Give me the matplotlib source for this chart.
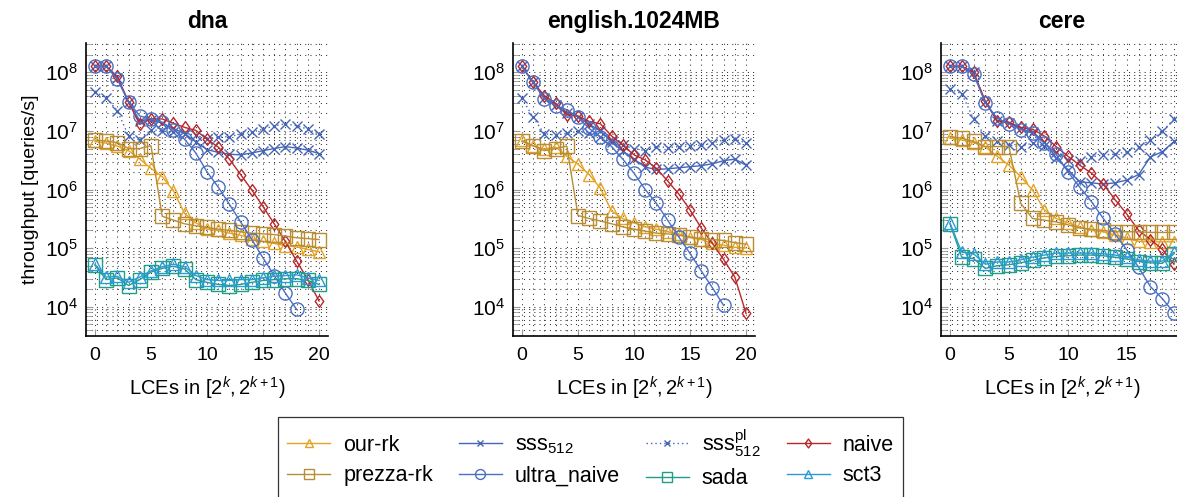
import matplotlib
matplotlib.use("Agg")
import matplotlib.pyplot as plt
from matplotlib.path import Path
from matplotlib.ticker import LogLocator, NullFormatter, MultipleLocator, LogFormatterMathtext

plt.rcParams['font.family'] = ['Liberation Sans', 'DejaVu Sans']
plt.rcParams['mathtext.fontset'] = 'custom'
plt.rcParams['mathtext.rm'] = 'Liberation Sans'
plt.rcParams['mathtext.it'] = 'Liberation Sans:italic'
plt.rcParams['mathtext.bf'] = 'Liberation Sans:bold'

titles = ["dna", "english.1024MB", "cere"]
xticks_list = [[0, 5, 10, 15, 20], [0, 5, 10, 15, 20], [0, 5, 10, 15]]

# ---- dna ----
dna_our_rk = [6.6e6, 6.2e6, 5.5e6, 4.6e6, 3.3e6, 2.3e6, 1.66e6, 9.5e5, 3.9e5, 2.7e5, 2.1e5,
              2.0e5, 1.8e5, 1.66e5, 1.45e5, 1.3e5, 1.2e5, 1.1e5, 1.05e5, 9.5e4, 8.7e4]
dna_prezza = [7.0e6, 6.7e6, 6.3e6, 5.0e6, 5.0e6, 5.6e6, 3.5e5, 3.0e5, 2.6e5, 2.4e5, 2.25e5,
              2.1e5, 2.0e5, 1.9e5, 1.8e5, 1.75e5, 1.7e5, 1.6e5, 1.5e5, 1.45e5, 1.4e5]
dna_sss = [1.26e8, 1.26e8, 8.0e7, 3.1e7, 1.5e7, 1.55e7, 1.35e7, 1.1e7, 9.0e6, 6.5e6, 4.8e6,
           4.3e6, 4.0e6, 3.9e6, 4.2e6, 4.6e6, 5.0e6, 5.4e6, 5.1e6, 4.7e6, 4.1e6]
dna_sss_pl = [4.6e7, 3.7e7, 2.2e7, 8.2e6, 7.0e6, 1.05e7, 1.0e7, 9.5e6, 9.0e6, 8.5e6, 7.2e6,
              7.8e6, 8.0e6, 8.8e6, 9.5e6, 1.07e7, 1.22e7, 1.32e7, 1.23e7, 1.07e7, 8.8e6]
dna_ultra = [1.26e8, 1.26e8, 7.6e7, 3.1e7, 1.8e7, 1.6e7, 1.4e7, 1.05e7, 7.2e6, 4.2e6, 2.0e6,
             1.1e6, 5.6e5, 2.8e5, 1.4e5, 6.8e4, 3.4e4, 1.7e4, 9.0e3]
dna_naive = [1.26e8, 1.26e8, 8.5e7, 3.1e7, 1.29e7, 1.6e7, 1.6e7, 1.35e7, 1.15e7, 1.02e7, 7.2e6,
             5.3e6, 3.3e6, 1.8e6, 9.8e5, 5.1e5, 2.6e5, 1.3e5, 6.0e4, 2.9e4, 1.25e4]
dna_sada = [5.1e4, 2.9e4, 3.1e4, 2.3e4, 2.9e4, 3.9e4, 4.5e4, 4.9e4, 4.4e4, 2.9e4, 2.6e4,
            2.4e4, 2.3e4, 2.4e4, 2.6e4, 2.8e4, 2.9e4, 3.0e4, 3.0e4, 2.8e4, 2.4e4]
dna_sct3 = [5.3e4, 3.2e4, 3.3e4, 2.6e4, 3.2e4, 4.1e4, 4.8e4, 5.3e4, 4.8e4, 3.4e4, 2.9e4,
            2.8e4, 2.8e4, 2.9e4, 2.9e4, 3.1e4, 3.3e4, 3.4e4, 3.5e4, 3.1e4, 2.8e4]

# ---- english.1024MB ----
eng_our_rk = [7.0e6, 5.5e6, 4.9e6, 5.3e6, 3.7e6, 2.7e6, 1.8e6, 1.05e6, 4.3e5, 3.2e5, 2.7e5,
              2.3e5, 2.1e5, 1.9e5, 1.75e5, 1.5e5, 1.4e5, 1.2e5, 1.12e5, 1.03e5, 1.0e5]
eng_prezza = [6.6e6, 5.6e6, 4.6e6, 5.0e6, 5.5e6, 3.6e5, 3.2e5, 2.9e5, 2.6e5, 2.3e5, 2.1e5,
              1.95e5, 1.8e5, 1.75e5, 1.66e5, 1.55e5, 1.45e5, 1.4e5, 1.35e5, 1.24e5, 1.17e5]
eng_sss = [1.26e8, 6.7e7, 3.7e7, 2.8e7, 2.0e7, 1.75e7, 1.3e7, 1.0e7, 6.5e6, 4.5e6, 3.3e6,
           2.4e6, 2.2e6, 2.25e6, 2.35e6, 2.45e6, 2.55e6, 2.75e6, 3.1e6, 3.3e6, 2.6e6]
eng_sss_pl = [3.6e7, 1.7e7, 8.9e6, 8.5e6, 9.1e6, 9.8e6, 9.1e6, 8.0e6, 7.0e6, 5.7e6, 5.0e6,
              4.6e6, 5.4e6, 5.2e6, 5.4e6, 5.5e6, 5.7e6, 6.2e6, 7.0e6, 7.2e6, 6.2e6]
eng_ultra = [1.26e8, 6.7e7, 3.5e7, 2.7e7, 2.3e7, 1.7e7, 1.1e7, 7.9e6, 5.4e6, 3.3e6, 1.9e6,
             1.0e6, 5.8e5, 3.0e5, 1.55e5, 8.1e4, 4.1e4, 2.1e4, 1.05e4]
eng_naive = [1.26e8, 6.7e7, 4.0e7, 2.97e7, 1.87e7, 1.8e7, 1.45e7, 1.32e7, 8.2e6, 5.7e6, 3.9e6,
             3.2e6, 2.3e6, 1.4e6, 8.4e5, 4.5e5, 2.2e5, 1.2e5, 6.4e4, 3.2e4, 7.7e3]
eng_sada = []
eng_sct3 = []

# ---- cere (k = 0 .. 19) ----
cere_our_rk = [7.5e6, 7.0e6, 6.3e6, 5.3e6, 3.7e6, 2.6e6, 1.66e6, 9.8e5, 4.5e5, 3.2e5, 2.7e5,
               2.3e5, 2.0e5, 1.9e5, 1.66e5, 1.48e5, 1.3e5, 1.28e5, 1.28e5, 1.28e5]
cere_prezza = [8.0e6, 7.5e6, 6.6e6, 5.4e6, 5.4e6, 5.4e6, 5.8e5, 3.2e5, 3.0e5, 2.8e5, 2.5e5,
               2.2e5, 2.1e5, 2.0e5, 1.9e5, 1.9e5, 1.9e5, 1.85e5, 1.85e5, 1.85e5]
cere_sss = [1.26e8, 1.26e8, 1.0e8, 3.1e7, 1.5e7, 1.35e7, 1.1e7, 9.5e6, 6.5e6, 3.5e6, 2.15e6,
            1.35e6, 1.3e6, 1.24e6, 1.3e6, 1.45e6, 1.8e6, 3.6e6, 4.4e6, 6.6e6]
cere_sss_pl = [5.2e7, 4.3e7, 1.6e7, 8.1e6, 6.6e6, 5.7e6, 5.4e6, 6.2e6, 5.5e6, 4.4e6, 3.2e6,
               3.1e6, 3.6e6, 3.9e6, 4.0e6, 4.4e6, 5.4e6, 7.0e6, 9.8e6, 1.6e7]
cere_ultra = [1.26e8, 1.26e8, 9.3e7, 3.0e7, 1.65e7, 1.32e7, 1.05e7, 9.1e6, 6.2e6, 4.0e6, 2.0e6,
              1.1e6, 6.2e5, 3.2e5, 1.74e5, 9.3e4, 4.7e4, 2.2e4, 1.38e4, 7.8e3]
cere_naive = [1.26e8, 1.26e8, 1.0e8, 3.2e7, 1.5e7, 1.4e7, 1.15e7, 1.07e7, 8.2e6, 5.4e6, 3.7e6,
              2.6e6, 1.9e6, 1.24e6, 6.7e5, 3.8e5, 2.0e5, 1.4e5, 9.6e4, 5.3e4]
cere_sada = [2.6e5, 7.0e4, 6.6e4, 4.5e4, 5.0e4, 5.2e4, 5.6e4, 6.2e4, 6.8e4, 7.2e4, 7.4e4,
             7.6e4, 7.6e4, 7.4e4, 7.0e4, 6.5e4, 5.9e4, 5.6e4, 5.5e4, 8.0e4]
cere_sct3 = [2.7e5, 8.5e4, 8.0e4, 5.3e4, 5.8e4, 5.8e4, 6.3e4, 7.0e4, 7.6e4, 8.2e4, 8.2e4,
             8.2e4, 8.2e4, 8.0e4, 7.6e4, 7.0e4, 6.3e4, 6.0e4, 6.0e4, 8.5e4]

datasets = [
    dict(our_rk=dna_our_rk, sss=dna_sss, sss_pl=dna_sss_pl, naive=dna_naive,
         prezza=dna_prezza, ultra=dna_ultra, sada=dna_sada, sct3=dna_sct3),
    dict(our_rk=eng_our_rk, sss=eng_sss, sss_pl=eng_sss_pl, naive=eng_naive,
         prezza=eng_prezza, ultra=eng_ultra, sada=eng_sada, sct3=eng_sct3),
    dict(our_rk=cere_our_rk, sss=cere_sss, sss_pl=cere_sss_pl, naive=cere_naive,
         prezza=cere_prezza, ultra=cere_ultra, sada=cere_sada, sct3=cere_sct3),
]
xlims = [(-0.8, 20.8), (-0.8, 20.8), (-0.76, 19.76)]

diamond = Path([(0, 1), (0.72, 0), (0, -1), (-0.72, 0), (0, 1)],
               [Path.MOVETO, Path.LINETO, Path.LINETO, Path.LINETO, Path.CLOSEPOLY])

styles = {
    'our_rk': dict(label='our-rk', color='#E5A323', marker='^', ms=8, ls='-'),
    'sss':    dict(label=r'sss$_{512}$', color='#4565B8', marker='x', ms=6.5, ls='-'),
    'sss_pl': dict(label=r'sss$^{\mathrm{pl}}_{512}$', color='#4565B8', marker='x', ms=6.5, ls=(0, (1, 2.2))),
    'naive':  dict(label='naive', color='#B8272C', marker=diamond, ms=8.5, ls='-'),
    'prezza': dict(label='prezza-rk', color='#B88D33', marker='s', ms=9.5, ls='-'),
    'ultra':  dict(label='ultra_naive', color='#4A6FC4', marker='o', ms=9.5, ls='-'),
    'sada':   dict(label='sada', color='#1F9E8A', marker='s', ms=9.5, ls='-'),
    'sct3':   dict(label='sct3', color='#2A9BD6', marker='^', ms=8, ls='-'),
}
draw_order = ['our_rk', 'sss', 'sss_pl', 'naive', 'prezza', 'ultra', 'sada', 'sct3']

W, H = 1177, 497
fig = plt.figure(figsize=(W / 100, H / 100), dpi=100)
lefts = [86, 513, 941]
ax_w, ax_top, ax_bot = 242, 43, 336

handles = {}
for i, (title, data) in enumerate(zip(titles, datasets)):
    ax = fig.add_axes([lefts[i] / W, (H - ax_bot) / H, ax_w / W, (ax_bot - ax_top) / H])
    for key in draw_order:
        vals = data[key]
        if not vals:
            continue
        st = styles[key]
        (ln,) = ax.plot(range(len(vals)), vals, color=st['color'], linestyle=st['ls'],
                        linewidth=1.0, marker=st['marker'], markersize=st['ms'],
                        markerfacecolor='none', markeredgecolor=st['color'],
                        markeredgewidth=1.0, label=st['label'])
        handles[key] = ln
    ax.set_yscale('log')
    ax.set_ylim(10 ** 3.5, 10 ** 8.5)
    ax.set_xlim(*xlims[i])
    ax.set_xticks(xticks_list[i])
    ax.xaxis.set_minor_locator(MultipleLocator(1))
    ax.yaxis.set_major_locator(LogLocator(base=10, numticks=20))
    ax.yaxis.set_minor_locator(LogLocator(base=10, subs=[2, 3, 4, 5, 6, 7, 8, 9], numticks=20))
    ax.yaxis.set_major_formatter(LogFormatterMathtext())
    ax.yaxis.set_minor_formatter(NullFormatter())
    ax.grid(True, which='both', axis='both', linestyle=(0, (1, 4)), color='#333333', linewidth=0.75)
    ax.set_axisbelow(True)
    for s in ['top', 'right']:
        ax.spines[s].set_visible(False)
    for s in ['left', 'bottom']:
        ax.spines[s].set_linewidth(1.2)
    ax.tick_params(axis='y', which='major', direction='in', length=5, color='#999999',
                   labelsize=15, pad=6)
    ax.tick_params(axis='y', which='minor', direction='in', length=4, color='#999999')
    ax.tick_params(axis='x', which='major', direction='in', length=5, color='#999999',
                   labelsize=14, pad=8)
    ax.tick_params(axis='x', which='minor', length=0)
    ax.set_title(title, fontsize=16.5, fontweight='bold', pad=11)
    ax.set_xlabel(r'LCEs in $[2^{k}, 2^{k+1})$', fontsize=14.5, labelpad=8)
    if i == 0:
        ax.set_ylabel('throughput [queries/s]', fontsize=14, labelpad=4)

leg_order = ['our_rk', 'prezza', 'sss', 'ultra', 'sss_pl', 'sada', 'naive', 'sct3']
leg = fig.legend([handles[k] for k in leg_order], [styles[k]['label'] for k in leg_order],
                 loc='upper center', bbox_to_anchor=(590.5 / W, 1 - 417 / H), ncol=4,
                 fontsize=15.5, frameon=True, fancybox=False, edgecolor='black',
                 handlelength=2.0, handletextpad=0.6, columnspacing=1.2,
                 borderpad=0.45, labelspacing=0.45, markerscale=0.75, borderaxespad=0)
leg.get_frame().set_linewidth(0.9)

fig.savefig('out.png', dpi=100)
